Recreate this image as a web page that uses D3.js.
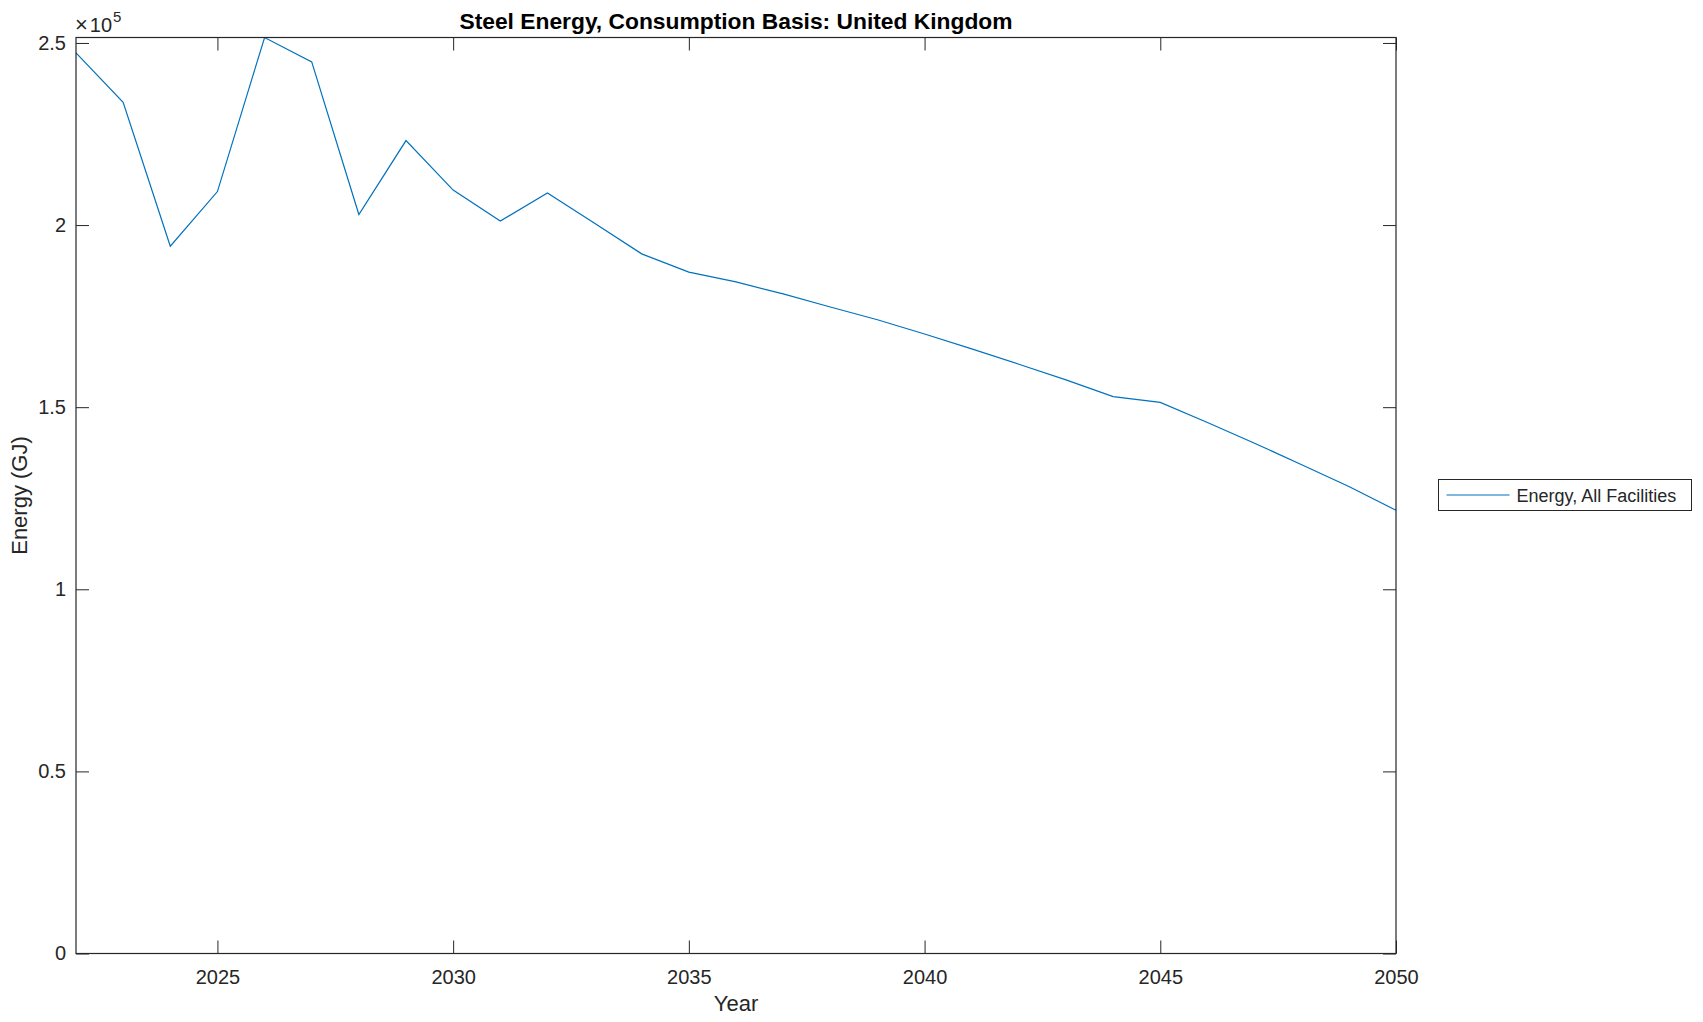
<!DOCTYPE html>
<html>
<head>
<meta charset="utf-8">
<script src="https://cdn.jsdelivr.net/npm/d3@7"></script>
<style>
  body { margin: 0; background: #fff; }
  text { font-family: "Liberation Sans", Arial, Helvetica, sans-serif; fill: #262626; }
</style>
</head>
<body>
<div id="chart"></div>
<script>
// energy use per year, GJ
var years = [2022, 2023, 2024, 2025, 2026, 2027, 2028, 2029, 2030, 2031,
             2032, 2033, 2034, 2035, 2036, 2037, 2038, 2039, 2040, 2041,
             2042, 2043, 2044, 2045, 2046, 2047, 2048, 2049, 2050];
var energy = [247300, 233700, 194200, 209200, 251500, 244800, 202900, 223200, 209600, 201100,
              208800, 200500, 192100, 187100, 184400, 181100, 177500, 174000, 170100, 166000,
              161800, 157500, 152900, 151300, 145800, 140100, 134200, 128200, 121700];
var xTicks = [2025, 2030, 2035, 2040, 2045, 2050];
var yTicks = [0, 50000, 100000, 150000, 200000, 250000];
var yTickLabels = ["0", "0.5", "1", "1.5", "2", "2.5"];
var seriesName = "Energy, All Facilities";

var W = 1703, H = 1022;
// plot box (note: "top" is taken by window.top, so use other names)
var pL = 76, pR = 1396, pT = 37.5, pB = 953.5;
var axisColor = "#262626";

var svg = d3.select("#chart").append("svg")
    .attr("width", W)
    .attr("height", H);

var x = d3.scaleLinear().domain([2022, 2050]).range([pL, pR]);
var y = d3.scaleLinear().domain([0, d3.max(energy)]).range([pB, pT]);

// line first, box on top of it
var line = d3.line()
    .x(function (d, i) { return x(years[i]); })
    .y(function (d) { return y(d); });

svg.append("path")
    .datum(energy)
    .attr("fill", "none")
    .attr("stroke", "#0072BD")
    .attr("stroke-width", 1.2)
    .attr("d", line);

// axes, ticks point inwards like matlab
svg.append("g")
    .attr("transform", "translate(0," + pB + ")")
    .call(d3.axisBottom(x).tickValues(xTicks).tickSize(-13).tickPadding(16).tickFormat(d3.format("d")));
svg.append("g")
    .attr("transform", "translate(0," + pT + ")")
    .call(d3.axisTop(x).tickValues(xTicks).tickSize(-13).tickFormat(""));
svg.append("g")
    .attr("transform", "translate(" + pL + ",0)")
    .call(d3.axisLeft(y).tickValues(yTicks).tickSize(-13).tickPadding(10)
        .tickFormat(function (d, i) { return yTickLabels[i]; }));
svg.append("g")
    .attr("transform", "translate(" + pR + ",0)")
    .call(d3.axisRight(y).tickValues(yTicks).tickSize(-13).tickFormat(""));

svg.selectAll(".domain").remove();
svg.selectAll(".tick line").attr("stroke", axisColor);
svg.selectAll(".tick text")
    .attr("fill", axisColor)
    .style("font-size", "20px")
    .style("font-family", "'Liberation Sans', Arial, sans-serif");

svg.append("rect")
    .attr("x", pL)
    .attr("y", pT)
    .attr("width", pR - pL)
    .attr("height", pB - pT)
    .attr("fill", "none")
    .attr("stroke", axisColor)
    .attr("stroke-width", 1.2);

// exponent label
var expo = svg.append("text")
    .attr("x", 75)
    .attr("y", 32)
    .style("font-size", "20px");
expo.append("tspan").style("font-size", "22px").text("\u00d7");
expo.append("tspan").attr("dx", 2).text("10");
expo.append("tspan").attr("dy", -10).attr("dx", 1).style("font-size", "15px").text("5");

// title and labels
svg.append("text")
    .attr("x", (pL + pR) / 2)
    .attr("y", 29)
    .attr("text-anchor", "middle")
    .style("font-size", "22.8px")
    .style("font-weight", "bold")
    .style("fill", "#000")
    .text("Steel Energy, Consumption Basis: United Kingdom");

svg.append("text")
    .attr("x", (pL + pR) / 2)
    .attr("y", 1011)
    .attr("text-anchor", "middle")
    .style("font-size", "22px")
    .text("Year");

svg.append("text")
    .attr("transform", "translate(27," + (pT + pB) / 2 + ") rotate(-90)")
    .attr("text-anchor", "middle")
    .style("font-size", "22px")
    .text("Energy (GJ)");

// legend
var lg = svg.append("g").attr("transform", "translate(1438.5,479.5)");
lg.append("rect")
    .attr("width", 253)
    .attr("height", 31)
    .attr("fill", "#fff")
    .attr("stroke", axisColor)
    .attr("stroke-width", 1);
lg.append("line")
    .attr("x1", 8).attr("x2", 71)
    .attr("y1", 15.5).attr("y2", 15.5)
    .attr("stroke", "#0072BD")
    .attr("stroke-width", 1.2);
lg.append("text")
    .attr("x", 78)
    .attr("y", 22)
    .style("font-size", "18px")
    .text(seriesName);
</script>
</body>
</html>
